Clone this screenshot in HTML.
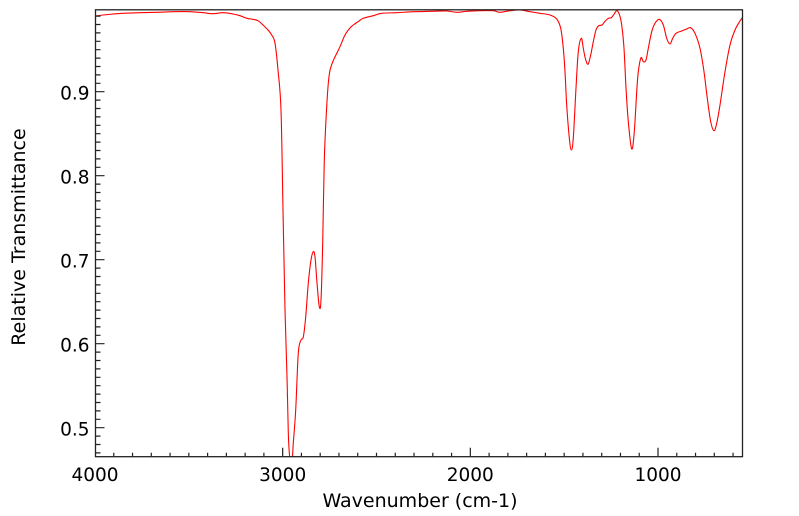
<!DOCTYPE html>
<html>
<head>
<meta charset="utf-8">
<style>
html,body{margin:0;padding:0;background:#fff;}
svg{display:block;}
text{font-family:"DejaVu Sans","Liberation Sans",sans-serif;fill:#000;}
</style>
</head>
<body>
<svg id="chart" width="799" height="516" viewBox="0 0 799 516" xmlns="http://www.w3.org/2000/svg">
<defs>
<clipPath id="pc"><rect x="95.5" y="9.5" width="647" height="447.2"/></clipPath>
</defs>
<rect x="0" y="0" width="799" height="516" fill="#fff"/>
<polyline id="spec" clip-path="url(#pc)" fill="none" stroke="#ff0000" stroke-width="1.1" stroke-linejoin="round" points="
95.5,16 103,15 113,14 123,13.3 140,12.7 157,12.3 173,11.7 190,11.7 203,12.7 213,13.7 223,12.7 233,14 240,15.7 247,18.3 253,19.3 258,20.7 263,25 268,30 271.7,35 275,43 278,70 281,110 283,210 285,310 287,377 288.3,433 289.5,455 291,462 292.5,456 293.3,443 295.7,410 298.3,353 301,340 303.3,337 305.7,317 308.3,283 311,260 313.3,251.7 315,256.7 317,283 319.3,306.7 321,300 322.7,243 324.3,160 326.7,106.7 329,76.7 332.3,63 340,46.7 345,35 350,28 353.3,25 358,21.7 363.3,18.3 373.3,15.7 381.7,13.3 396.7,12.7 413.3,11.7 430,11.3 446.7,11 456.7,12.3 466.7,11.3 480,10.7 493.3,10.7 500,12.3 510,10.7 520,10 530,11.7 540,13.3 550,15 556.7,19 560.7,28.3 563.3,48.3 565,71.7 566.7,105 569.3,138 571.3,150 573.3,138 576,88 578.3,51.7 581.3,38.3 583.3,48.3 585.3,58.3 588,64.3 590.7,55 593.3,41.7 596,30 598.7,25.7 602,25 605.3,21 608.3,18.3 611.3,17.7 614,14.3 616.7,10.7 619.3,14.3 621.7,25 624,48.3 626,88 628.3,121.7 631.7,149 634.3,131.7 636.7,91.7 638.3,71.7 641,57.7 643.3,61.7 646,60 648.3,48.3 651.7,31.7 655,23.3 659.3,19.3 663.3,25 666.7,38.3 670,44 672.7,38.3 676,33.3 681.7,31 686.7,29 690.7,27.7 695,33.3 700,48.3 704,71.7 707.3,98.3 710.7,121.7 714,130.7 716.7,123.3 720,105 725,71.7 730,45 735,30 740,21 743,17"/>
<!-- frame -->
<rect x="95.5" y="9.8" width="647" height="446.9" fill="none" stroke="#222" stroke-width="1.3"/>
<!-- y ticks -->
<g stroke="#222" stroke-width="1.2">
<path d="M95.5 16.1h5M95.5 24.5h5M95.5 32.9h5M95.5 41.3h5M95.5 49.7h5M95.5 58.1h5M95.5 66.5h5M95.5 74.9h5M95.5 83.3h5M95.5 91.7h9
M95.5 100.1h5M95.5 108.5h5M95.5 116.9h5M95.5 125.3h5M95.5 133.7h5M95.5 142.1h5M95.5 150.5h5M95.5 158.9h5M95.5 167.3h5M95.5 175.7h9
M95.5 184.1h5M95.5 192.5h5M95.5 200.9h5M95.5 209.3h5M95.5 217.7h5M95.5 226.1h5M95.5 234.5h5M95.5 242.9h5M95.5 251.3h5M95.5 259.7h9
M95.5 268.1h5M95.5 276.5h5M95.5 284.9h5M95.5 293.3h5M95.5 301.7h5M95.5 310.1h5M95.5 318.5h5M95.5 326.9h5M95.5 335.3h5M95.5 343.7h9
M95.5 352.1h5M95.5 360.5h5M95.5 368.9h5M95.5 377.3h5M95.5 385.7h5M95.5 394.1h5M95.5 402.5h5M95.5 410.9h5M95.5 419.3h5M95.5 427.7h9
M95.5 436.1h5M95.5 444.5h5M95.5 452.9h5"/>
<!-- x ticks -->
<path d="M113.77 456.7v-4M132.53 456.7v-4M151.3 456.7v-4M170.07 456.7v-4M188.83 456.7v-4M207.6 456.7v-4M226.37 456.7v-4M245.13 456.7v-4M263.9 456.7v-4M282.67 456.7v-9
M301.43 456.7v-4M320.2 456.7v-4M338.97 456.7v-4M357.73 456.7v-4M376.5 456.7v-4M395.27 456.7v-4M414.03 456.7v-4M432.8 456.7v-4M451.57 456.7v-4M470.33 456.7v-9
M489.1 456.7v-4M507.87 456.7v-4M526.63 456.7v-4M545.4 456.7v-4M564.17 456.7v-4M582.93 456.7v-4M601.7 456.7v-4M620.47 456.7v-4M639.23 456.7v-4M658 456.7v-9
M676.77 456.7v-4M695.53 456.7v-4M714.3 456.7v-4M733.07 456.7v-4"/>
</g>
<!-- y tick labels -->
<g font-size="18.5" text-anchor="end">
<text x="89.5" y="99.6">0.9</text>
<text x="89.5" y="183.6">0.8</text>
<text x="89.5" y="267.6">0.7</text>
<text x="89.5" y="351.6">0.6</text>
<text x="89.5" y="435.4">0.5</text>
</g>
<!-- x tick labels -->
<g font-size="18.5" text-anchor="middle">
<text x="95" y="481">4000</text>
<text x="282.7" y="481">3000</text>
<text x="470.3" y="481">2000</text>
<text x="658" y="481">1000</text>
</g>
<text x="420" y="507" font-size="19" text-anchor="middle">Wavenumber (cm-1)</text>
<text transform="translate(25,237) rotate(-90)" x="0" y="0" font-size="19" text-anchor="middle">Relative Transmittance</text>
</svg>
<script>
(function(){
  try{
    var pl=document.getElementById('spec');
    var raw=pl.getAttribute('points').trim().split(/\s+/);
    var p=raw.map(function(s){var a=s.split(',');return [parseFloat(a[0]),parseFloat(a[1])];});
    var d='M'+p[0][0]+' '+p[0][1];
    var t=0.5;
    for(var i=0;i<p.length-1;i++){
      var p0=p[i-1]||p[i],p1=p[i],p2=p[i+1],p3=p[i+2]||p2;
      var c1x=p1[0]+(p2[0]-p0[0])*t/3,c1y=p1[1]+(p2[1]-p0[1])*t/3;
      var c2x=p2[0]-(p3[0]-p1[0])*t/3,c2y=p2[1]-(p3[1]-p1[1])*t/3;
      d+=' C'+c1x.toFixed(2)+' '+c1y.toFixed(2)+' '+c2x.toFixed(2)+' '+c2y.toFixed(2)+' '+p2[0]+' '+p2[1];
    }
    var ns='http://www.w3.org/2000/svg';
    var path=document.createElementNS(ns,'path');
    path.setAttribute('d',d);
    path.setAttribute('fill','none');
    path.setAttribute('stroke','#ff0000');
    path.setAttribute('stroke-width','1.1');
    path.setAttribute('stroke-linejoin','round');
    path.setAttribute('clip-path','url(#pc)');
    pl.parentNode.replaceChild(path,pl);
  }catch(e){}
})();
</script>
</body>
</html>
